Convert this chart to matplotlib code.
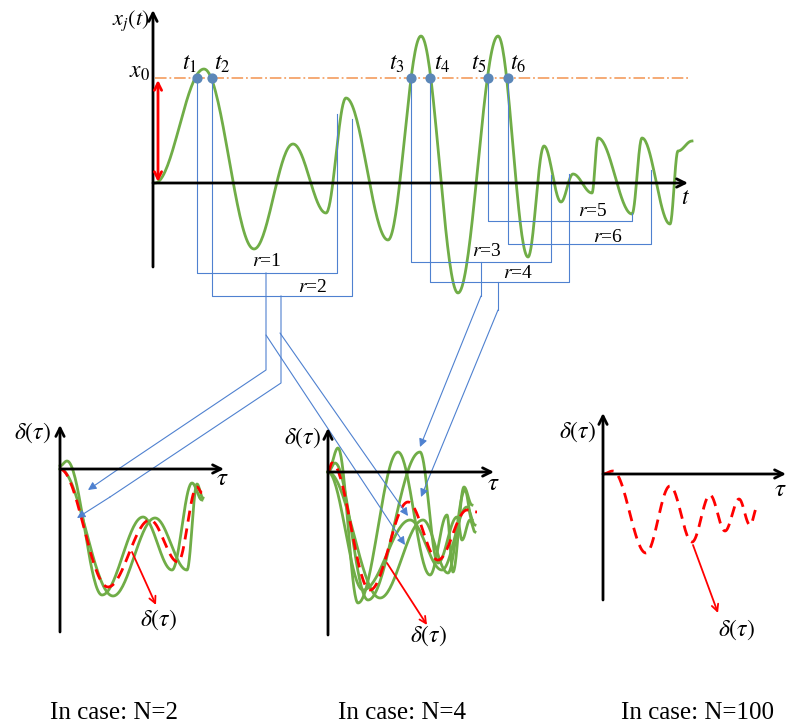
import numpy as np
import matplotlib.pyplot as plt

plt.rcParams['mathtext.fontset'] = 'stix'
plt.rcParams['font.family'] = ['Liberation Serif', 'DejaVu Serif']

# --- data (pixel coords, y downwards) ---
# top signal x_j(t): extrema of the green wave
sig_t = [155, 204, 254, 293, 326, 346, 388, 421, 458, 498, 528, 544, 561, 573, 592, 598, 632, 642, 670, 678, 692]
sig_x = [183, 69, 249, 144, 213, 98, 240, 36, 293, 36, 257, 146, 202, 174, 193, 138, 214, 138, 224, 151, 141]
x0_level = 78
t_marks = [197, 212, 411, 430, 488, 508]
t_names = ['$t_1$', '$t_2$', '$t_3$', '$t_4$', '$t_5$', '$t_6$']
t_name_x = [190, 222, 397, 442, 479, 518]
# right end of every r bracket: (x, y where it meets the wave), bottom of bracket
r_right = [337, 352, 551, 569, 632, 651]
r_top = [114, 119, 175, 174, 213, 170]
r_bottom = [273, 296, 262, 282, 221, 244]
r_labels = ['r=1', 'r=2', 'r=3', 'r=4', 'r=5', 'r=6']
r_label_pos = [(267, 262), (313, 287), (487, 252), (518, 274), (593, 212), (608, 237)]

# panel N=2
p1_green = [
    [(60, 466), (67, 461), (102, 595), (143, 517), (172, 570), (192, 483), (202, 500)],
    [(60, 469), (113, 596), (155, 518), (187, 570), (197, 484), (203, 498)],
]
p1_red = [(60, 469), (108, 587), (150, 520), (178, 562), (197, 487), (202, 493)]
# panel N=4
p2_green = [
    [(328, 472), (338, 448), (358, 603), (398, 452), (430, 575), (447, 515), (453, 572), (464, 487), (472, 505)],
    [(328, 472), (335, 463), (368, 600), (420, 452), (438, 563), (457, 517), (462, 540), (470, 520), (475, 532)],
    [(328, 472), (380, 598), (423, 520), (448, 573), (465, 490), (472, 520)],
    [(328, 472), (363, 590), (410, 520), (442, 570), (467, 507), (475, 525)],
]
p2_red = [(328, 472), (332, 463), (370, 590), (408, 502), (438, 560), (467, 510), (477, 512)]
# panel N=100
p3_red = [(603, 474), (613, 471), (646, 553), (670, 486), (692, 542), (710, 495), (725, 531),
          (739, 499), (750, 525), (758, 505)]

cases = ['In case: N=2', 'In case: N=4', 'In case: N=100']
case_x = [114, 402, 698]

GREEN = '#70ad47'
BLUE = '#4f81d0'
RED = '#ff0000'
ORANGE = '#f4a46a'


def wave(pts, n=40):
    xs, ys = [], []
    for (xa, ya), (xb, yb) in zip(pts[:-1], pts[1:]):
        s = np.linspace(0, 1, n)
        xs.extend(xa + (xb - xa) * s)
        ys.extend(ya + (yb - ya) * (1 - np.cos(np.pi * s)) / 2)
    return xs, ys


def arrow(ax, a, b, color='black', lw=2, style='->', ms=15):
    ax.annotate('', xy=b, xytext=a,
                arrowprops=dict(arrowstyle=style, color=color, lw=lw,
                                mutation_scale=ms, shrinkA=0, shrinkB=0))


fig = plt.figure(figsize=(7.88, 7.27), dpi=100)
ax = fig.add_axes([0, 0, 1, 1])
ax.set_xlim(0, 788)
ax.set_ylim(727, 0)
ax.axis('off')

# ---- top panel ----
ax.plot([155, 690], [x0_level, x0_level], color=ORANGE, lw=1.3, ls='-.')
xs, ys = wave(list(zip(sig_t, sig_x)))
ax.plot(xs, ys, color=GREEN, lw=2)
arrow(ax, (153, 267), (153, 10))
arrow(ax, (153, 183), (688, 183))
arrow(ax, (158, 80), (158, 182), color=RED, lw=2, style='<->', ms=13)
ax.text(131, 21, '$x_j(t)$', fontsize=16, ha='center', va='center')
ax.text(140, 72, '$x_0$', fontsize=17, ha='center', va='center')
ax.text(686, 199, '$t$', fontsize=17, ha='center', va='center')

for k in range(6):
    ax.plot([t_marks[k], t_marks[k], r_right[k], r_right[k]],
            [x0_level, r_bottom[k], r_bottom[k], r_top[k]], color=BLUE, lw=0.8)
    ax.text(r_label_pos[k][0], r_label_pos[k][1], '$r$=' + r_labels[k][2],
            fontsize=14, ha='center', va='center')
    ax.text(t_name_x[k], 64, t_names[k], fontsize=17, ha='center', va='center')
ax.scatter(t_marks, [x0_level] * 6, s=40, color='#5b87b8', zorder=5)

# ---- connectors to lower panels ----
ax.plot([266, 266, 120], [273, 370, 468], color=BLUE, lw=0.8)
arrow(ax, (120, 468), (88, 490), color=BLUE, lw=0.8, style='-|>', ms=12)
ax.plot([281, 281, 110], [296, 383, 497], color=BLUE, lw=0.8)
arrow(ax, (110, 497), (77, 518), color=BLUE, lw=0.8, style='-|>', ms=12)
arrow(ax, (266, 335), (405, 545), color=BLUE, lw=0.8, style='-|>', ms=12)
arrow(ax, (280, 333), (408, 516), color=BLUE, lw=0.8, style='-|>', ms=12)
ax.plot([481, 481], [262, 296], color=BLUE, lw=0.8)
arrow(ax, (481, 296), (420, 447), color=BLUE, lw=0.8, style='-|>', ms=12)
ax.plot([498, 498], [282, 310], color=BLUE, lw=0.8)
arrow(ax, (498, 310), (421, 497), color=BLUE, lw=0.8, style='-|>', ms=12)

# ---- panel N=2 ----
arrow(ax, (60, 632), (60, 425))
arrow(ax, (60, 469), (224, 469))
for c in p1_green:
    xs, ys = wave(c)
    ax.plot(xs, ys, color=GREEN, lw=2)
xs, ys = wave(p1_red)
ax.plot(xs, ys, color=RED, lw=2, ls=(0, (4, 2.5)))
arrow(ax, (132, 552), (156, 605), color=RED, lw=1.3, ms=12)
ax.text(33, 433, r'$\delta(\tau)$', fontsize=17, ha='center', va='center')
ax.text(159, 620, r'$\delta(\tau)$', fontsize=17, ha='center', va='center')
ax.text(222, 479, r'$\tau$', fontsize=18, ha='center', va='center')

# ---- panel N=4 ----
arrow(ax, (328, 635), (328, 428))
arrow(ax, (328, 472), (494, 472))
for c in p2_green:
    xs, ys = wave(c)
    ax.plot(xs, ys, color=GREEN, lw=2)
xs, ys = wave(p2_red)
ax.plot(xs, ys, color=RED, lw=2, ls=(0, (4, 2.5)))
arrow(ax, (387, 563), (427, 625), color=RED, lw=1.3, ms=12)
ax.text(303, 438, r'$\delta(\tau)$', fontsize=17, ha='center', va='center')
ax.text(429, 636, r'$\delta(\tau)$', fontsize=17, ha='center', va='center')
ax.text(493, 484, r'$\tau$', fontsize=18, ha='center', va='center')

# ---- panel N=100 ----
arrow(ax, (603, 600), (603, 413))
arrow(ax, (603, 474), (786, 474))
xs, ys = wave(p3_red)
ax.plot(xs, ys, color=RED, lw=2, ls=(0, (4, 2.5)))
arrow(ax, (693, 545), (718, 613), color=RED, lw=1.3, ms=12)
ax.text(578, 432, r'$\delta(\tau)$', fontsize=17, ha='center', va='center')
ax.text(737, 630, r'$\delta(\tau)$', fontsize=17, ha='center', va='center')
ax.text(780, 490, r'$\tau$', fontsize=18, ha='center', va='center')

for lab, cx in zip(cases, case_x):
    ax.text(cx, 713, lab, fontsize=18, ha='center', va='center')

fig.savefig('out.png', dpi=100)
